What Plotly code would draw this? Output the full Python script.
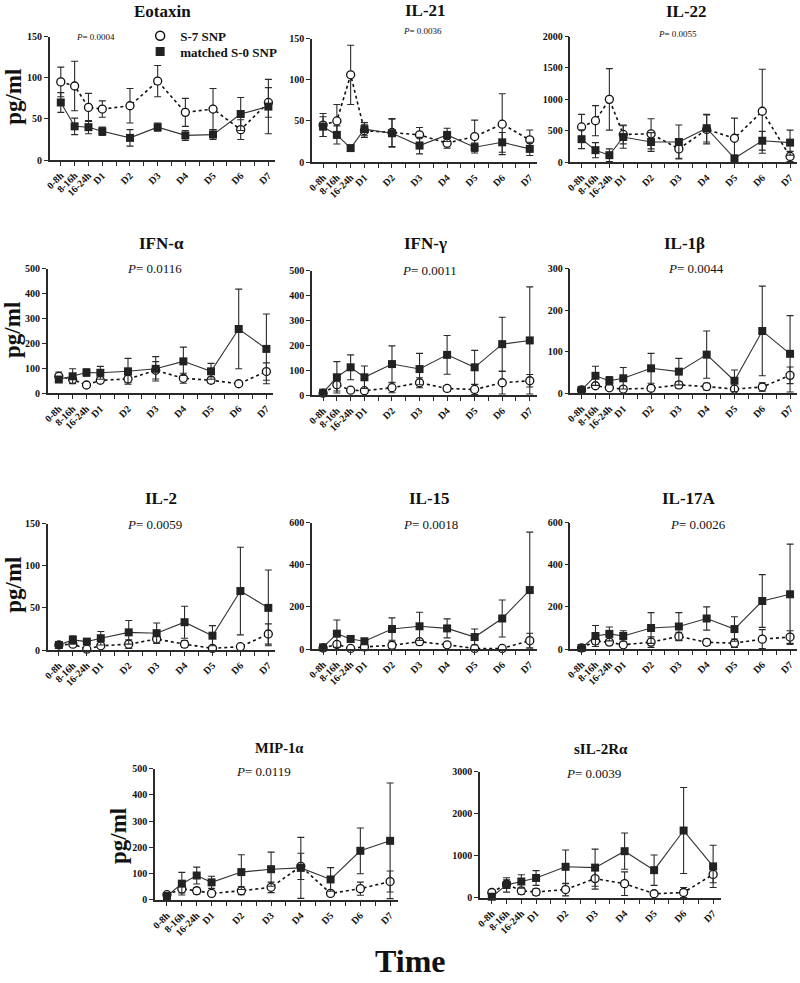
import plotly.graph_objects as go

W, H = 800, 983

# ---------------- data ----------------
time_labels = ["0-8h", "8-16h", "16-24h", "D1", "D2", "D3", "D4", "D5", "D6", "D7"]
time_pos = [0, 1, 2, 3, 5, 7, 9, 11, 13, 15]

cytokines = ["Eotaxin", "IL-21", "IL-22", "IFN-α", "IFN-γ", "IL-1β",
             "IL-2", "IL-15", "IL-17A", "MIP-1α", "sIL-2Rα"]
p_values = ["0.0004", "0.0036", "0.0055", "0.0116", "0.0011", "0.0044",
            "0.0059", "0.0018", "0.0026", "0.0119", "0.0039"]
y_max = [150, 150, 2000, 500, 500, 300, 150, 600, 600, 500, 3000]
y_step = [50, 50, 500, 100, 100, 100, 50, 200, 200, 100, 1000]

eotaxin_s7 = [95, 90, 64, 62, 66, 96, 58, 62, 37, 70]
eotaxin_s7_err = [18, 30, 17, 10, 21, 19, 17, 25, 12, 18]
eotaxin_s0 = [70, 41, 40, 35, 27, 40, 30, 31, 56, 65]
eotaxin_s0_err = [12, 10, 8, 5, 10, 5, 6, 6, 20, 33]

il21_s7 = [45, 50, 106, 38, 36, 33, 23, 31, 46, 27]
il21_s7_err = [14, 20, 36, 8, 17, 9, 6, 20, 37, 12]
il21_s0 = [43, 33, 17, 40, 35, 20, 33, 18, 24, 16]
il21_s0_err = [12, 11, 3, 8, 17, 10, 8, 5, 12, 8]

il22_s7 = [560, 660, 1000, 440, 450, 210, 520, 380, 810, 90]
il22_s7_err = [200, 240, 490, 150, 240, 150, 230, 320, 670, 80]
il22_s0 = [365, 190, 110, 400, 320, 320, 540, 60, 340, 310]
il22_s0_err = [150, 120, 100, 180, 150, 270, 220, 30, 150, 200]

ifna_s7 = [68, 55, 33, 52, 57, 92, 60, 52, 38, 87]
ifna_s7_err = [17, 15, 8, 10, 15, 35, 20, 12, 8, 35]
ifna_s0 = [55, 68, 83, 82, 88, 98, 128, 88, 258, 178]
ifna_s0_err = [10, 30, 15, 26, 52, 49, 57, 32, 160, 140]

ifng_s7 = [8, 42, 20, 18, 30, 50, 27, 23, 50, 58]
ifng_s7_err = [4, 25, 8, 10, 20, 20, 12, 20, 45, 25]
ifng_s0 = [10, 72, 112, 72, 125, 105, 162, 112, 205, 220]
ifng_s0_err = [4, 63, 50, 45, 73, 63, 78, 68, 108, 215]

il1b_s7 = [8, 18, 13, 10, 12, 20, 16, 10, 15, 43]
il1b_s7_err = [3, 5, 5, 5, 6, 8, 8, 5, 10, 20]
il1b_s0 = [8, 42, 30, 36, 60, 52, 93, 30, 150, 95]
il1b_s0_err = [3, 23, 10, 26, 36, 32, 57, 26, 108, 92]

il2_s7 = [6, 7, 1, 5, 7, 13, 7, 2, 4, 19]
il2_s7_err = [2, 3, 1, 2, 5, 5, 4, 1, 1, 12]
il2_s0 = [6, 12, 10, 14, 21, 20, 33, 17, 70, 50]
il2_s0_err = [2, 5, 3, 8, 14, 12, 19, 12, 52, 45]

il15_s7 = [5, 22, 3, 10, 18, 35, 20, 3, 3, 40]
il15_s7_err = [3, 12, 2, 5, 15, 15, 10, 2, 2, 35]
il15_s0 = [8, 73, 48, 37, 95, 108, 98, 57, 145, 280]
il15_s0_err = [4, 65, 15, 10, 53, 67, 45, 38, 88, 275]

il17a_s7 = [5, 38, 33, 20, 33, 60, 32, 28, 47, 57]
il17a_s7_err = [3, 15, 12, 10, 25, 20, 15, 20, 45, 30]
il17a_s0 = [5, 62, 72, 62, 100, 107, 145, 95, 228, 260]
il17a_s0_err = [3, 50, 33, 25, 73, 66, 55, 58, 125, 238]

mip1a_s7 = [20, 42, 35, 25, 35, 48, 128, 25, 43, 70]
mip1a_s7_err = [8, 15, 12, 10, 15, 20, 50, 10, 25, 40]
mip1a_s0 = [15, 62, 93, 67, 106, 117, 122, 78, 187, 225]
mip1a_s0_err = [5, 43, 32, 23, 66, 65, 116, 45, 87, 220]

sil2ra_s7 = [130, 330, 170, 140, 200, 460, 340, 100, 130, 560]
sil2ra_s7_err = [60, 100, 80, 80, 150, 250, 280, 50, 120, 200]
sil2ra_s0 = [30, 310, 390, 475, 740, 720, 1110, 660, 1600, 750]
sil2ra_s0_err = [20, 170, 160, 175, 400, 440, 430, 360, 1020, 500]

s7_means = [eotaxin_s7, il21_s7, il22_s7, ifna_s7, ifng_s7, il1b_s7,
            il2_s7, il15_s7, il17a_s7, mip1a_s7, sil2ra_s7]
s7_errs = [eotaxin_s7_err, il21_s7_err, il22_s7_err, ifna_s7_err, ifng_s7_err, il1b_s7_err,
           il2_s7_err, il15_s7_err, il17a_s7_err, mip1a_s7_err, sil2ra_s7_err]
s0_means = [eotaxin_s0, il21_s0, il22_s0, ifna_s0, ifng_s0, il1b_s0,
            il2_s0, il15_s0, il17a_s0, mip1a_s0, sil2ra_s0]
s0_errs = [eotaxin_s0_err, il21_s0_err, il22_s0_err, ifna_s0_err, ifng_s0_err, il1b_s0_err,
           il2_s0_err, il15_s0_err, il17a_s0_err, mip1a_s0_err, sil2ra_s0_err]

series_names = ["S-7 SNP", "matched S-0 SNP"]

# ---------------- layout (pixel boxes) ----------------
# (x0, x1, y_top, y_bottom)
boxes = [
    (45, 272, 31, 156), (309, 535, 33, 158), (569, 797, 31, 158),
    (43, 270, 266, 392), (309, 535, 268, 394), (569, 797, 266, 392),
    (43, 272, 524, 652), (309, 535, 523, 651), (569, 797, 523, 651),
    (151, 395, 772, 905), (478, 720, 775, 903),
]
title_pos = [(158, 6), (423, 5), (686, 6), (157, 240), (423, 240), (684, 240),
             (157, 499), (427, 499), (688, 499), (276, 751), (600, 752)]
title_size = [17, 17, 17, 17, 17, 17, 17, 17, 17, 14.5, 15]
p_pos = [(91, 31), (420, 25), (677, 28), (150, 266), (427, 268), (695, 266),
         (150, 525), (428, 525), (697, 525), (260, 775), (592, 777)]
p_size = [9, 9, 9, 13, 13, 13, 13, 13, 13, 13, 13]

FONT = "Liberation Serif"
DARK = "#2a2a2a"


def px(x):
    return x / W


def py(y):
    return 1 - y / H


fig = go.Figure()
tick_text_all = [""] * 16
for lab, pos in zip(time_labels, time_pos):
    tick_text_all[pos] = lab

annotations = []
for i, name in enumerate(cytokines):
    k = i + 1
    xa = "x" if k == 1 else f"x{k}"
    ya = "y" if k == 1 else f"y{k}"
    x0, x1, yt, yb = boxes[i]

    # S-7 SNP: open circles, dashed
    fig.add_trace(go.Scatter(
        x=time_pos, y=s7_means[i], xaxis=xa, yaxis=ya, mode="lines+markers",
        line=dict(color="#111", width=1.6, dash="3px,3px"),
        marker=dict(symbol="circle", size=8, color="white", line=dict(color="#111", width=1.3)),
        error_y=dict(type="data", array=s7_errs[i], color=DARK, thickness=1.1, width=3.5),
        showlegend=False, cliponaxis=False, name=series_names[0]))
    # matched S-0 SNP: filled squares, solid
    fig.add_trace(go.Scatter(
        x=time_pos, y=s0_means[i], xaxis=xa, yaxis=ya, mode="lines+markers",
        line=dict(color="#333", width=1.1),
        marker=dict(symbol="square", size=8, color="#222"),
        error_y=dict(type="data", array=s0_errs[i], color=DARK, thickness=1.1, width=3.5),
        showlegend=False, cliponaxis=False, name=series_names[1]))

    fig.layout[f"xaxis{k if k > 1 else ''}"] = dict(
        domain=[px(x0), px(x1)], anchor=ya, range=[-0.8, 15.5],
        showline=True, linecolor=DARK, linewidth=1.5, ticks="outside",
        ticklen=4, tickwidth=1.2, tickcolor=DARK, showgrid=False, zeroline=False,
        tickmode="array", tickvals=list(range(16)), ticktext=tick_text_all,
        tickangle=-45, tickfont=dict(family=FONT, size=10, color="#111", weight="bold"))
    fig.layout[f"yaxis{k if k > 1 else ''}"] = dict(
        domain=[py(yb), py(yt)], anchor=xa, range=[0, y_max[i]],
        showline=True, linecolor=DARK, linewidth=1.5, ticks="outside",
        ticklen=4, tickwidth=1.2, tickcolor=DARK, showgrid=False, zeroline=False,
        tickmode="linear", tick0=0, dtick=y_step[i],
        tickfont=dict(family=FONT, size=10, color="#111", weight="bold"))

    tx, ty = title_pos[i]
    annotations.append(dict(x=px(tx), y=py(ty), xref="paper", yref="paper",
                            text=f"<b>{name}</b>", showarrow=False,
                            font=dict(family=FONT, size=title_size[i], color="#111"),
                            xanchor="center", yanchor="middle"))
    ppx, ppy = p_pos[i]
    annotations.append(dict(x=px(ppx), y=py(ppy), xref="paper", yref="paper",
                            text=f"<i>P</i>= {p_values[i]}", showarrow=False,
                            font=dict(family=FONT, size=p_size[i], color="#111"),
                            xanchor="center", yanchor="middle"))

# legend-only entries (marker symbols only), one legend box each
fig.add_trace(go.Scatter(x=[None], y=[None], mode="markers", name=series_names[0],
                         legend="legend",
                         marker=dict(symbol="circle", size=9, color="white",
                                     line=dict(color="#111", width=1.5))))
fig.add_trace(go.Scatter(x=[None], y=[None], mode="markers", name=series_names[1],
                         legend="legend2",
                         marker=dict(symbol="square", size=9, color="#222")))

# y-axis titles
for (lx, ly) in [(9, 92), (8, 328), (9, 586), (114, 840)]:
    annotations.append(dict(x=px(lx), y=py(ly), xref="paper", yref="paper",
                            text="<b>pg/ml</b>", showarrow=False, textangle=-90,
                            font=dict(family=FONT, size=23, color="#111"),
                            xanchor="center", yanchor="middle"))
annotations.append(dict(x=px(408), y=py(967), xref="paper", yref="paper",
                        text="<b>Time</b>", showarrow=False,
                        font=dict(family=FONT, size=32, color="#111"),
                        xanchor="center", yanchor="middle"))

legend_style = dict(xanchor="left", yanchor="top", bgcolor="rgba(0,0,0,0)",
                    font=dict(family=FONT, size=13, color="#111", weight="bold"),
                    itemwidth=30, tracegroupgap=0)

fig.update_layout(
    width=W, height=H, margin=dict(l=0, r=0, t=0, b=0),
    paper_bgcolor="white", plot_bgcolor="white",
    annotations=annotations,
    showlegend=True,
    legend=dict(x=px(136), y=py(15), **legend_style),
    legend2=dict(x=px(136), y=py(31), **legend_style),
)

fig.write_html("out.html", config={"displayModeBar": False},
               post_script="document.body.style.margin='0';document.body.style.overflow='hidden';")
